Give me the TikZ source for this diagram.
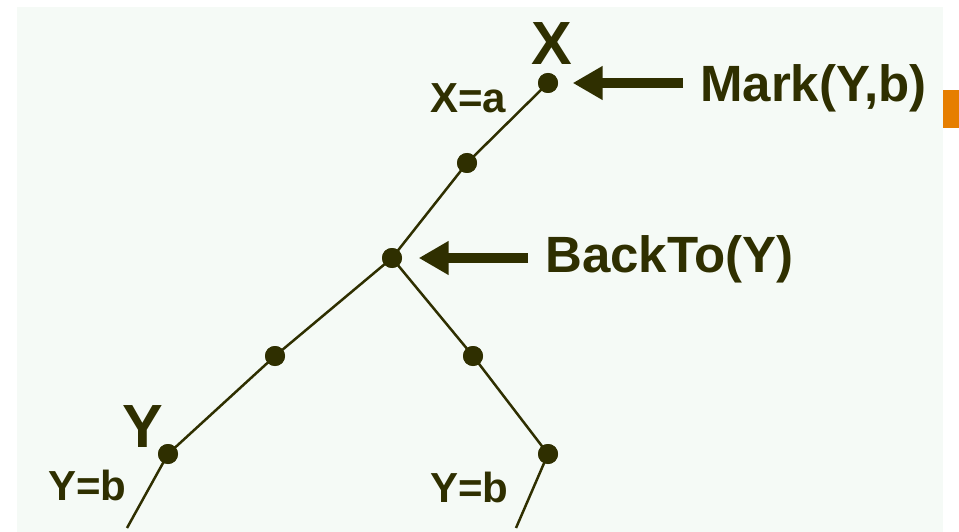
\documentclass[tikz,border=0pt]{standalone}
\usepackage{fontspec}
\setmainfont{Liberation Sans}
\usetikzlibrary{arrows.meta}
\definecolor{ink}{HTML}{2F2F00}
\definecolor{panel}{HTML}{F5FAF6}
\definecolor{tab}{HTML}{E67E00}
\begin{document}
\begin{tikzpicture}[x=1pt,y=-1pt,
  dot/.style={circle,fill=ink,inner sep=0pt,minimum size=20pt},
  edge/.style={draw=ink,line width=2.5pt},
  small/.style={text=ink,font=\bfseries\fontsize{42}{42}\selectfont,inner sep=0pt},
  big/.style={text=ink,font=\bfseries\fontsize{61}{61}\selectfont,inner sep=0pt},
  cmd/.style={text=ink,font=\bfseries\fontsize{51}{51}\selectfont,inner sep=0pt},
  fat/.style={draw=ink,line width=10pt,-{Triangle[length=30pt,width=32pt]}}]
\useasboundingbox (0,0) rectangle (959,532);
\fill[white] (0,0) rectangle (959,532);
\fill[panel] (17,7) rectangle (943,532);
\fill[tab] (943,90) rectangle (959,128);
% dots
\node[dot] (xd) at (548,83) {};
\node[dot] (d1) at (467,163) {};
\node[dot] (bd) at (392,258) {};
\node[dot] (d2) at (275,356) {};
\node[dot] (d3) at (473,356) {};
\node[dot] (yd) at (168,454) {};
\node[dot] (d4) at (548,454) {};
\coordinate (e1) at (127,528);
\coordinate (e2) at (516,528);
% edges
\draw[edge] (xd.center) -- (d1.center) -- (bd.center) -- (d2.center) -- (yd.center) -- (e1);
\draw[edge] (bd.center) -- (d3.center) -- (d4.center) -- (e2);
\node[dot] at (xd) {};
\node[dot] at (d1) {};
\node[dot] at (bd) {};
\node[dot] at (d2) {};
\node[dot] at (d3) {};
\node[dot] at (yd) {};
\node[dot] at (d4) {};
% labels
\node[big,anchor=base] (xl) at (552,65) {X};
\node[big,anchor=base] (yl) at (143,447) {Y};
\node[small,anchor=base west] (xa) at (430,113) {X=a};
\node[small,anchor=base west] (yb1) at (48,500) {Y=b};
\node[small,anchor=base west] (yb2) at (430,502) {Y=b};
\node[cmd,anchor=base west] (mark) at (700,102) {Mark(Y,b)};
\node[cmd,anchor=base west] (back) at (545,272) {BackTo(Y)};
% arrows
\draw[fat,shorten <=17pt,shorten >=14.5pt] (mark.west |- xd.center) -- (xd.east);
\draw[fat,shorten <=17pt,shorten >=16.5pt] (back.west |- bd.center) -- (bd.east);
\end{tikzpicture}
\end{document}
